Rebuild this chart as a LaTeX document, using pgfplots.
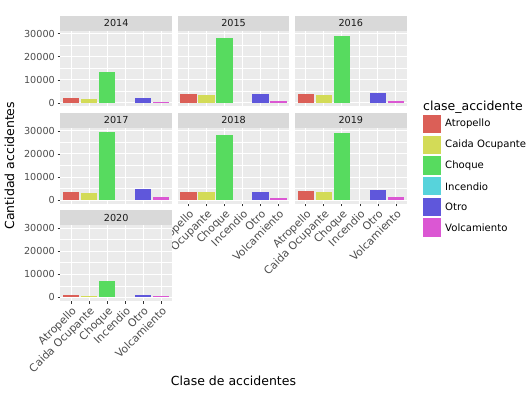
\documentclass[border=0pt]{standalone}
\usepackage{fontspec}
\setmainfont{DejaVu Sans}
\usepackage{pgfplots}
\pgfplotsset{compat=1.18}
\definecolor{cAtro}{HTML}{DB5F57}
\definecolor{cCaid}{HTML}{D3DB57}
\definecolor{cChoq}{HTML}{57DB5F}
\definecolor{cInce}{HTML}{57D3DB}
\definecolor{cOtro}{HTML}{5F57DB}
\definecolor{cVolc}{HTML}{DB57D3}
\definecolor{panelbg}{HTML}{EBEBEB}
\definecolor{stripbg}{HTML}{D9D9D9}
\definecolor{tickcol}{HTML}{4D4D4D}
\definecolor{tickmark}{HTML}{333333}
\definecolor{striptext}{HTML}{1A1A1A}

\newcommand{\bars}[6]{%
 \addplot[ybar,bar width=0.9,bar shift=0pt,fill=cAtro,draw=none] coordinates {(1,#1)};
 \addplot[ybar,bar width=0.9,bar shift=0pt,fill=cCaid,draw=none] coordinates {(2,#2)};
 \addplot[ybar,bar width=0.9,bar shift=0pt,fill=cChoq,draw=none] coordinates {(3,#3)};
 \addplot[ybar,bar width=0.9,bar shift=0pt,fill=cInce,draw=none,fill opacity=0] coordinates {(4,#4)};
 \addplot[ybar,bar width=0.9,bar shift=0pt,fill=cOtro,draw=none] coordinates {(5,#5)};
 \addplot[ybar,bar width=0.9,bar shift=0pt,fill=cVolc,draw=none] coordinates {(6,#6)};
}
\newcommand{\strip}[3]{%
 \fill[stripbg] (#1,#2) rectangle ++(111.7pt,15pt);
 \node[font=\fontsize{9.65pt}{11pt}\selectfont,text=striptext,inner sep=0pt] at (#1+55.85pt,#2+7.5pt) {#3};
}

\pgfplotsset{
 panel/.style={
  width=111.7pt,height=75.7pt,scale only axis,anchor=south west,
  xmin=0.4,xmax=6.6,ymin=-1490,ymax=31290,
  axis background/.style={fill=panelbg},
  axis line style={draw=none},
  xtick={1,2,3,4,5,6},
  ytick={0,10000,20000,30000},
  minor ytick={5000,15000,25000},
  xmajorgrids,ymajorgrids,yminorgrids,
  major grid style={white,line width=1pt},
  minor grid style={white,line width=0.5pt},
  tick align=outside,tick pos=left,
  major tick length=2.8pt,minor tick length=0pt,
  xtick style={draw=none},ytick style={draw=none},
  scaled y ticks=false,
  tick label style={font=\fontsize{9.65pt}{11pt}\selectfont,text=tickcol},
  yticklabel style={/pgf/number format/1000 sep={},/pgf/number format/assume math mode=true,inner sep=2.5pt},
  xticklabels={},yticklabels={},
  clip=false,
 },
 ylab/.style={
  ytick style={draw=tickmark,line width=0.7pt},
  yticklabels={0,10000,20000,30000},
 },
 xlab/.style={
  xtick style={draw=tickmark,line width=0.7pt},
  xticklabels={Atropello,Caida Ocupante,Choque,Incendio,Otro,Volcamiento},
  x tick label style={rotate=45,anchor=north east,inner sep=1.5pt,font=\fontsize{10.8pt}{12pt}\selectfont},
 },
}

\begin{document}
\begin{tikzpicture}
\path[use as bounding box] (0,0) rectangle (532pt,399pt);

% Row 1
\begin{axis}[panel,ylab,at={(60.3pt,292.6pt)}]
\bars{2100}{1800}{13400}{0}{2100}{450}
\end{axis}
\strip{60.3pt}{368.3pt}{2014}
\begin{axis}[panel,at={(177.7pt,292.6pt)}]
\bars{4000}{3300}{28300}{0}{3750}{1000}
\end{axis}
\strip{177.7pt}{368.3pt}{2015}
\begin{axis}[panel,at={(295pt,292.6pt)}]
\bars{3750}{3300}{29200}{0}{4300}{1000}
\end{axis}
\strip{295pt}{368.3pt}{2016}

% Row 2
\begin{axis}[panel,ylab,at={(60.3pt,195.4pt)}]
\bars{3400}{3250}{29300}{0}{4700}{1500}
\end{axis}
\strip{60.3pt}{271.1pt}{2017}
\begin{axis}[panel,xlab,at={(177.7pt,195.4pt)}]
\bars{3400}{3400}{28100}{0}{3650}{1100}
\end{axis}
\strip{177.7pt}{271.1pt}{2018}
\begin{axis}[panel,xlab,at={(295pt,195.4pt)}]
\bars{3850}{3400}{28900}{0}{4400}{1350}
\end{axis}
\strip{295pt}{271.1pt}{2019}

% Row 3
\begin{axis}[panel,ylab,xlab,at={(60.3pt,98.2pt)}]
\bars{900}{450}{6950}{0}{1000}{450}
\end{axis}
\strip{60.3pt}{173.9pt}{2020}

% Axis titles
\node[rotate=90,anchor=base,font=\fontsize{12.5pt}{15pt}\selectfont,inner sep=0pt] at (14pt,233.3pt) {Cantidad accidentes};
\node[anchor=base,font=\fontsize{12.5pt}{15pt}\selectfont,inner sep=0pt] at (233.5pt,14pt) {Clase de accidentes};

% Legend
\node[anchor=base west,font=\fontsize{12.5pt}{15pt}\selectfont,inner sep=0pt] at (423pt,288.5pt) {clase\_accidente};
\foreach \c/\lab [count=\i from 0] in {cAtro/Atropello,cCaid/Caida Ocupante,cChoq/Choque,cInce/Incendio,cOtro/Otro,cVolc/Volcamiento}{
 \fill[\c] (422.7pt,284pt-\i*20.7pt) rectangle ++(18.6pt,-18.3pt);
 \node[anchor=west,font=\fontsize{10.1pt}{12pt}\selectfont,text=black,inner sep=0pt] at (445pt,274.85pt-\i*20.7pt) {\lab};
}
\end{tikzpicture}
\end{document}
